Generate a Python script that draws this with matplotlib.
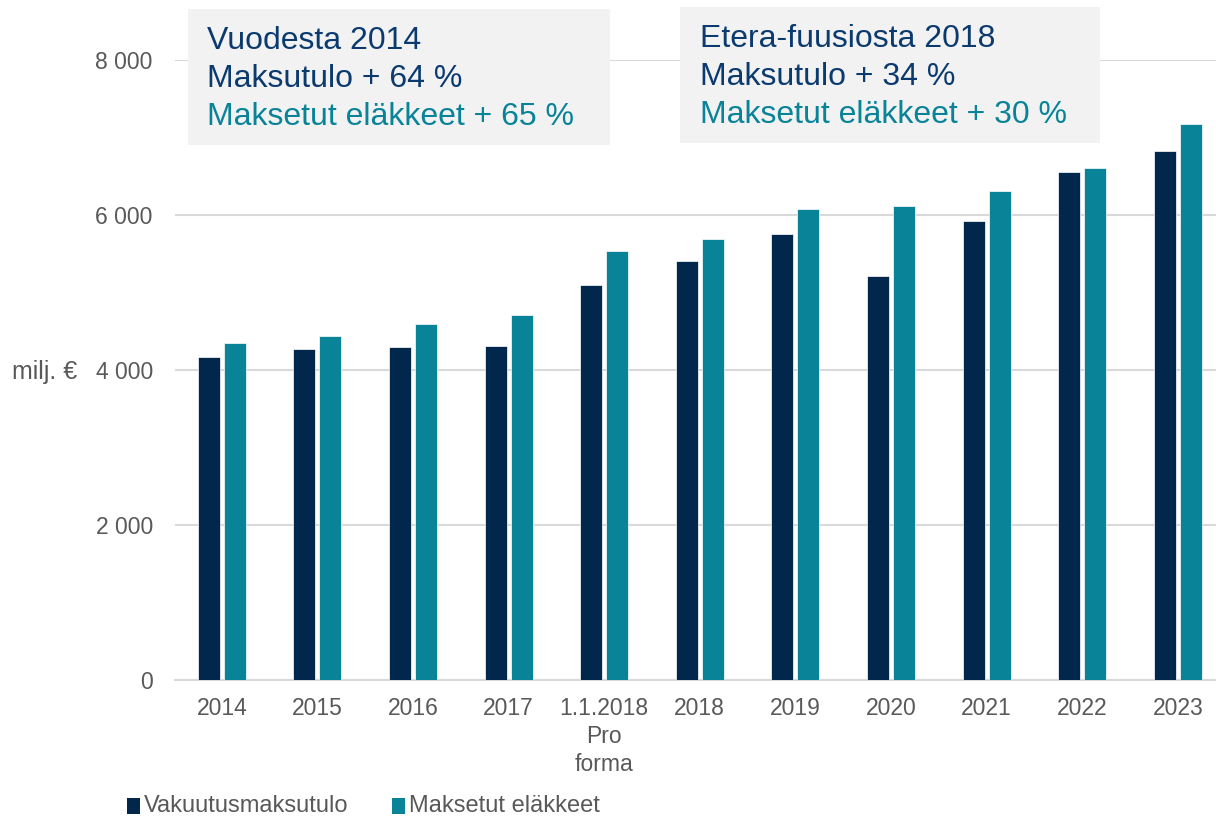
import matplotlib
matplotlib.use("Agg")
import matplotlib.pyplot as plt
import numpy as np
from matplotlib.patches import Rectangle

plt.rcParams['font.family'] = ['Liberation Sans', 'DejaVu Sans']

categories = ["2014", "2015", "2016", "2017", "1.1.2018\nPro\nforma",
              "2018", "2019", "2020", "2021", "2022", "2023"]
vakuutusmaksutulo = [4166, 4265, 4295, 4313, 5103, 5408, 5756, 5215, 5924, 6555, 6821]
maksetut_elakkeet = [4352, 4442, 4592, 4716, 5537, 5696, 6074, 6117, 6311, 6607, 7174]
yticks = [0, 2000, 4000, 6000, 8000]
ytick_labels = ["0", "2 000", "4 000", "6 000", "8 000"]

DARK = "#01274C"
TEAL = "#098398"
TXT_DARK = "#0B3A6E"
GRAY = "#595959"

W, H = 1216, 816
fig = plt.figure(figsize=(W / 100, H / 100), dpi=100)
left, right, bottom, top = 175, 1216, 680, 60
ax = fig.add_axes([left / W, 1 - bottom / H, (right - left) / W, (bottom - top) / H])

x = np.arange(len(categories))
bw = 0.23
off = 0.136
ax.bar(x - off, vakuutusmaksutulo, bw, color=DARK, edgecolor="white", linewidth=0.5,
       label="Vakuutusmaksutulo", zorder=3)
ax.bar(x + off, maksetut_elakkeet, bw, color=TEAL, edgecolor="white", linewidth=0.5,
       label="Maksetut eläkkeet", zorder=3)

ax.set_xlim(-0.49, 10.40)
ax.set_ylim(0, 8000)
ax.set_yticks(yticks)
ax.set_yticklabels(ytick_labels)
ax.set_xticks(x)
ax.set_xticklabels(categories, linespacing=1.3)
ax.grid(axis="y", color="#D9D9D9", linewidth=1.5, zorder=0)
for s in ["top", "right", "left"]:
    ax.spines[s].set_visible(False)
ax.spines["bottom"].set_color("#D9D9D9")
ax.spines["bottom"].set_linewidth(1.5)
ax.tick_params(axis="both", length=0, labelsize=16.5, labelcolor=GRAY)
ax.tick_params(axis="y", pad=16)
ax.tick_params(axis="x", pad=12)

fig.text(12 / W, 1 - 372 / H, "milj. €", fontsize=18, color=GRAY, va="center", ha="left")

# annotation boxes
boxes = [
    (188, 9, 422, 136, 207, ["Vuodesta 2014", "Maksutulo + 64 %", "Maksetut eläkkeet + 65 %"]),
    (680, 7, 420, 136, 700, ["Etera-fuusiosta 2018", "Maksutulo + 34 %", "Maksetut eläkkeet + 30 %"]),
]
for bx, by, bwid, bh, tx, lines in boxes:
    fig.patches.append(Rectangle((bx / W, 1 - (by + bh) / H), bwid / W, bh / H,
                                 transform=fig.transFigure, facecolor="#F2F2F2",
                                 edgecolor="none", zorder=5))
    cols = [TXT_DARK, TXT_DARK, TEAL]
    for i, (t, c) in enumerate(zip(lines, cols)):
        fig.text(tx / W, 1 - (by + 32 + i * 38) / H, t, fontsize=23, color=c,
                 va="center", ha="left", zorder=6)

# legend
leg_items = [(127, DARK, "Vakuutusmaksutulo"), (392, TEAL, "Maksetut eläkkeet")]
for lx, c, t in leg_items:
    fig.patches.append(Rectangle((lx / W, 1 - 814 / H), 13 / W, 16 / H,
                                 transform=fig.transFigure, facecolor=c, edgecolor="none"))
    fig.text((lx + 17) / W, 1 - 806 / H, t, fontsize=17, color=GRAY, va="center", ha="left")

fig.savefig("out.png", dpi=100)
